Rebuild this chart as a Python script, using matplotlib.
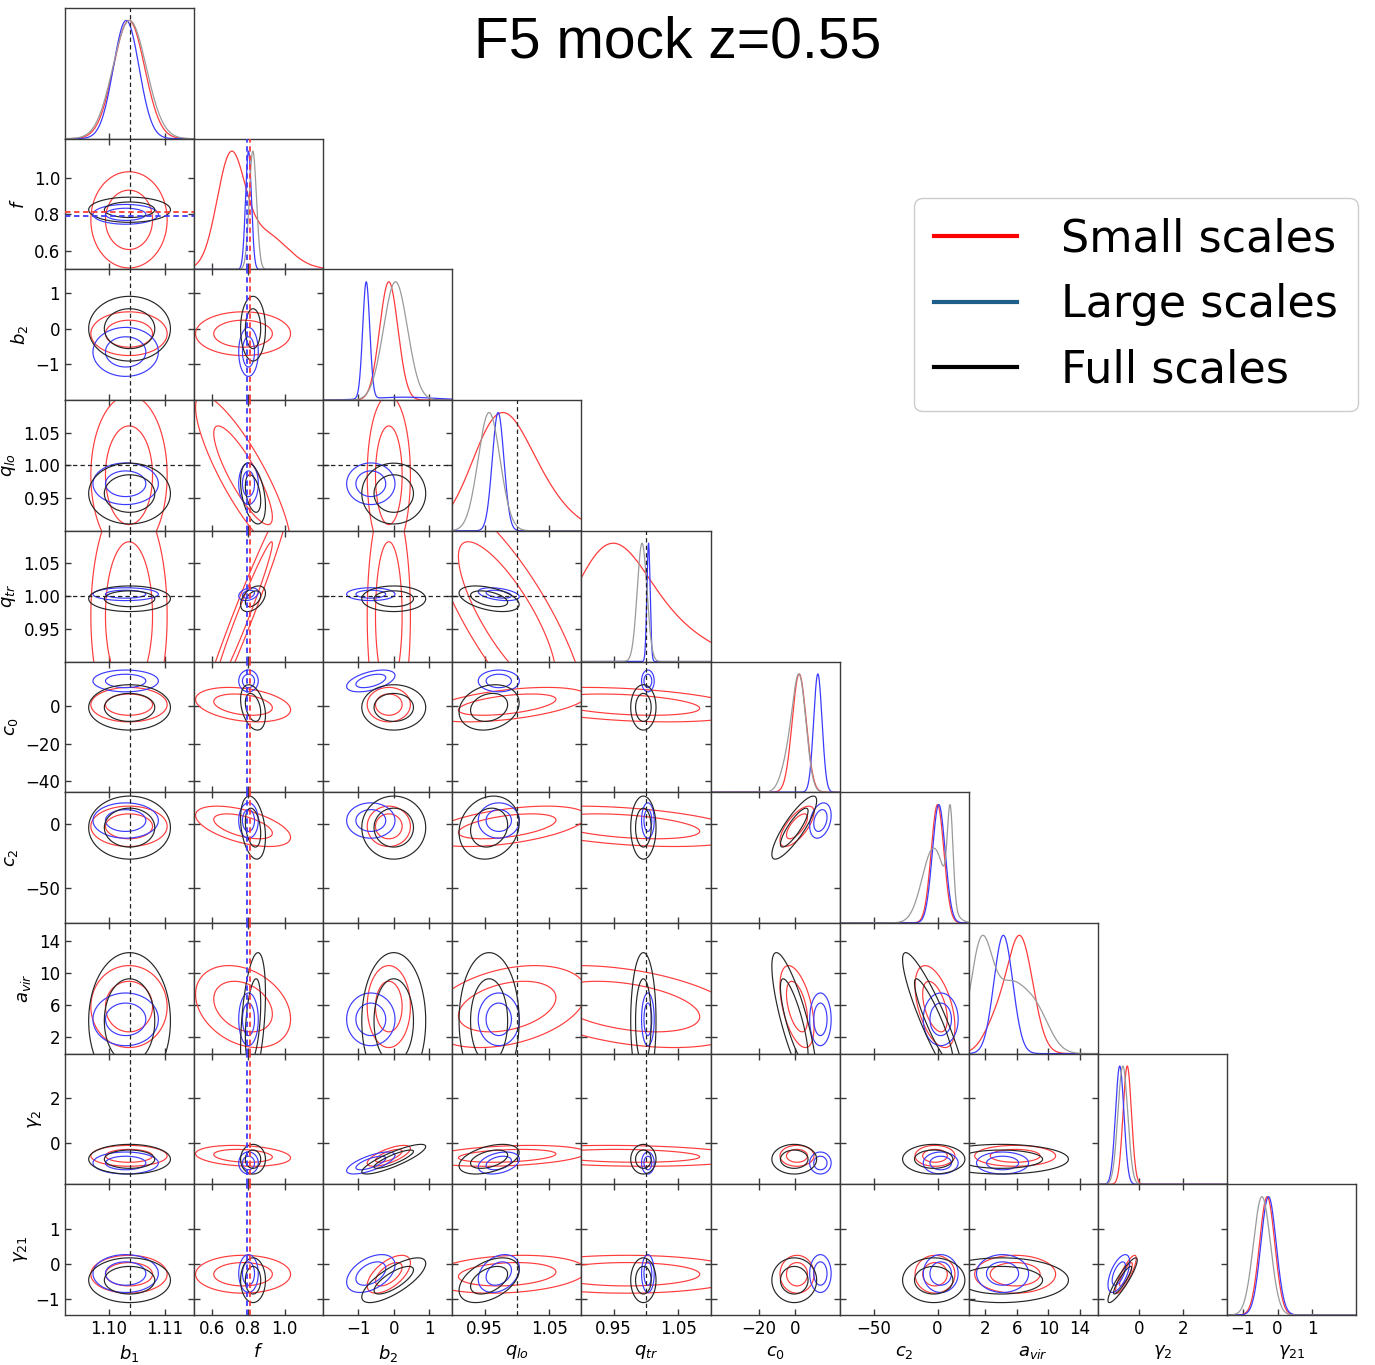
import numpy as np
import matplotlib
matplotlib.use('Agg')
import matplotlib.pyplot as plt
from matplotlib.lines import Line2D

# ---------------- data ----------------
PARAMS = ['b1', 'f', 'b2', 'q_lo', 'q_tr', 'c0', 'c2', 'a_vir', 'g2', 'g21']
LABELS = [r'$b_1$', r'$f$', r'$b_2$', r'$q_{lo}$', r'$q_{tr}$', r'$c_0$',
          r'$c_2$', r'$a_{vir}$', r'$\gamma_2$', r'$\gamma_{21}$']
LIMITS = [(1.0921, 1.1153), (0.5, 1.212), (-2.0, 1.66), (0.9, 1.1), (0.9, 1.1),
          (-46.3, 24.3), (-77.0, 24.5), (-0.1, 16.3), (-1.85, 3.98), (-1.46, 2.26)]
XTICKS = [[1.10, 1.11], [0.6, 0.8, 1.0], [-1, 0, 1], [0.95, 1.05], [0.95, 1.05],
          [-20, 0], [-50, 0], [2, 6, 10, 14], [0, 2], [-1, 0, 1]]
XTICKLABELS = [['1.10', '1.11'], ['0.6', '0.8', '1.0'], ['\u22121', '0', '1'],
               ['0.95', '1.05'], ['0.95', '1.05'], ['\u221220', '0'],
               ['\u221250', '0'], ['2', '6', '10', '14'], ['0', '2'],
               ['\u22121', '0', '1']]
YTICKS = [[], [0.6, 0.8, 1.0], [-1, 0, 1], [0.95, 1.00, 1.05], [0.95, 1.00, 1.05],
          [-40, -20, 0], [-50, 0], [2, 6, 10, 14], [0, 2], [-1, 0, 1]]
YTICKLABELS = [[], ['0.6', '0.8', '1.0'], ['\u22121', '0', '1'],
               ['0.95', '1.00', '1.05'], ['0.95', '1.00', '1.05'],
               ['\u221240', '\u221220', '0'], ['\u221250', '0'],
               ['2', '6', '10', '14'], ['0', '2'], ['\u22121', '0', '1']]

SERIES = ['Small scales', 'Large scales', 'Full scales']

# 2D posterior centres / widths (one value per parameter)
MEAN_SMALL = [1.1036, 0.77, -0.14, 0.985, 0.97, 1.0, -2.0, 5.8, -0.58, -0.30]
SIG_SMALL = [0.0028, 0.107, 0.25, 0.050, 0.075, 3.8, 6.4, 2.1, 0.19, 0.22]
MEAN_LARGE = [1.1030, 0.800, -0.65, 0.972, 1.003, 13.8, 2.5, 4.2, -0.90, -0.28]
SIG_LARGE = [0.0024, 0.022, 0.28, 0.013, 0.004, 2.4, 5.6, 1.35, 0.20, 0.22]
MEAN_FULL = [1.1037, 0.825, 0.0, 0.957, 0.996, -0.5, -3.0, 4.0, -0.73, -0.47]
SIG_FULL = [0.0030, 0.028, 0.37, 0.019, 0.008, 5.0, 10.0, 3.5, 0.27, 0.26]

# pairwise correlations (unlisted pairs ~ 0)
RHO_SMALL = {('f', 'q_lo'): -0.85, ('f', 'q_tr'): 0.975, ('q_lo', 'q_tr'): -0.8,
             ('f', 'c0'): -0.3, ('f', 'c2'): -0.55, ('f', 'a_vir'): -0.3,
             ('q_lo', 'c0'): 0.5, ('q_lo', 'c2'): 0.5, ('q_lo', 'a_vir'): 0.35,
             ('q_tr', 'c0'): -0.35, ('q_tr', 'c2'): -0.4, ('q_tr', 'a_vir'): -0.4,
             ('c0', 'c2'): 0.7, ('c0', 'a_vir'): -0.5, ('c2', 'a_vir'): -0.5,
             ('b2', 'g2'): 0.7, ('b2', 'g21'): 0.6, ('g2', 'g21'): 0.85,
             ('q_lo', 'g2'): 0.3, ('q_lo', 'g21'): 0.2, ('f', 'g2'): -0.2,
             ('q_tr', 'g2'): -0.15}
RHO_LARGE = {('f', 'q_tr'): 0.3, ('q_lo', 'q_tr'): -0.4, ('b2', 'c0'): 0.5,
             ('b2', 'g2'): 0.7, ('b2', 'g21'): 0.45, ('g2', 'g21'): 0.6,
             ('q_lo', 'g2'): 0.35, ('q_lo', 'g21'): 0.3, ('c0', 'c2'): 0.3}
RHO_FULL = {('f', 'q_lo'): -0.4, ('f', 'q_tr'): 0.45, ('q_lo', 'q_tr'): -0.45,
            ('f', 'c0'): -0.35, ('f', 'c2'): -0.3, ('f', 'a_vir'): 0.4,
            ('c0', 'c2'): 0.85, ('c0', 'a_vir'): -0.8, ('c2', 'a_vir'): -0.9,
            ('b2', 'g2'): 0.85, ('b2', 'g21'): 0.75, ('g2', 'g21'): 0.9,
            ('q_lo', 'g2'): 0.45, ('q_lo', 'g21'): 0.45, ('q_lo', 'c0'): 0.2,
            ('q_lo', 'c2'): 0.15}

# 1D marginals: components (centre, width, weight)
MARG_SMALL = {'b1': [(1.1036, 0.0028, 1)], 'f': [(0.70, 0.075, 1), (0.88, 0.13, 0.35)],
              'b2': [(-0.14, 0.26, 1)], 'q_lo': [(0.97, 0.042, 1), (1.03, 0.045, 0.35)],
              'q_tr': [(0.94, 0.055, 1), (1.02, 0.07, 0.35)], 'c0': [(2.2, 3.8, 1)],
              'c2': [(0.0, 5.0, 1)], 'a_vir': [(6.5, 1.6, 1), (3.5, 1.6, 0.28)],
              'g2': [(-0.52, 0.19, 1)], 'g21': [(-0.30, 0.22, 1)]}
MARG_LARGE = {'b1': [(1.1031, 0.0023, 1)], 'f': [(0.80, 0.016, 1)],
              'b2': [(-0.78, 0.10, 1), (0.3, 0.9, 0.025)], 'q_lo': [(0.971, 0.009, 1)],
              'q_tr': [(1.004, 0.0025, 1)], 'c0': [(12.4, 2.3, 1)],
              'c2': [(1.0, 5.0, 1)], 'a_vir': [(4.3, 1.2, 1)],
              'g2': [(-0.86, 0.19, 1)], 'g21': [(-0.26, 0.22, 1)]}
MARG_FULL = {'b1': [(1.1037, 0.0030, 1)], 'f': [(0.824, 0.020, 1)],
             'b2': [(0.05, 0.34, 1)], 'q_lo': [(0.957, 0.017, 1)],
             'q_tr': [(0.994, 0.0075, 1)], 'c0': [(2.5, 3.6, 1), (-3.5, 4.0, 0.3)],
             'c2': [(10.0, 2.2, 0.55), (-3.0, 9.0, 0.45)],
             'a_vir': [(1.5, 1.4, 0.75), (5.0, 1.8, 0.42), (8.3, 1.8, 0.30)],
             'g2': [(-0.72, 0.22, 1)], 'g21': [(-0.45, 0.245, 1)]}

TRUTH_B1 = 1.1038
TRUTH_F_SMALL = 0.81
TRUTH_F_LARGE = 0.79
TRUTH_Q = 1.0

# ---------------- styling ----------------
C_SMALL = '#ff3b3b'
C_LARGE = '#3b3bff'
C_FULL = '#262626'
C_FULL_1D = '#9a9a9a'
LEG_COLORS = ['#ff0000', '#1d5f88', '#000000']
K1, K2 = 1.51, 2.448

series_data = [
    (MEAN_SMALL, SIG_SMALL, RHO_SMALL, MARG_SMALL, C_SMALL, C_SMALL),
    (MEAN_LARGE, SIG_LARGE, RHO_LARGE, MARG_LARGE, C_LARGE, C_LARGE),
    (MEAN_FULL, SIG_FULL, RHO_FULL, MARG_FULL, C_FULL, C_FULL_1D),
]

N = len(PARAMS)
fig, axes = plt.subplots(N, N, figsize=(13.75, 13.65), dpi=100)
fig.subplots_adjust(left=65 / 1375, right=1356 / 1375, bottom=1 - 1315 / 1365,
                    top=1 - 8 / 1365, wspace=0, hspace=0)


def get_rho(rhos, a, b):
    return rhos.get((a, b), rhos.get((b, a), 0.0))


def draw_1d(ax, i, comps, color):
    lo, hi = LIMITS[i]
    x = np.linspace(lo, hi, 800)
    y = np.zeros_like(x)
    for m, s, w in comps:
        y += w * np.exp(-0.5 * ((x - m) / s) ** 2)
    y /= y.max()
    ax.plot(x, y, color=color, lw=0.9)


def draw_2d(ax, xi, yi, mean, sig, rho, color):
    x0, x1 = LIMITS[xi]
    y0, y1 = LIMITS[yi]
    dx_ = (x1 - x0) * 0.15
    dy_ = (y1 - y0) * 0.15
    x = np.linspace(x0 - dx_, x1 + dx_, 400)
    y = np.linspace(y0 - dy_, y1 + dy_, 400)
    X, Y = np.meshgrid(x, y)
    u = (X - mean[xi]) / sig[xi]
    v = (Y - mean[yi]) / sig[yi]
    d2 = (u ** 2 - 2 * rho * u * v + v ** 2) / (1 - rho ** 2)
    ax.contour(X, Y, d2, levels=[K1 ** 2, K2 ** 2], colors=[color],
               linewidths=0.85)


dash_k = dict(color='#222222', lw=0.9, ls=(0, (3.5, 2.5)), zorder=5)
for r in range(N):
    for c in range(N):
        ax = axes[r, c]
        if c > r:
            ax.axis('off')
            continue
        for sp in ax.spines.values():
            sp.set_color('#3a3a3a')
            sp.set_linewidth(1.0)
        ax.set_xlim(LIMITS[c])
        if r == c:
            for mean, sig, rhos, marg, col2, col1 in series_data:
                draw_1d(ax, c, marg[PARAMS[c]], col1)
            ax.set_ylim(0, 1.105)
            ax.set_yticks([])
        else:
            for mean, sig, rhos, marg, col2, col1 in series_data:
                draw_2d(ax, c, r, mean, sig,
                        get_rho(rhos, PARAMS[c], PARAMS[r]), col2)
            ax.set_ylim(LIMITS[r])
            ax.set_yticks(YTICKS[r])
            ax.set_yticklabels(YTICKLABELS[r])
        ax.set_xticks(XTICKS[c])
        ax.set_xticklabels(XTICKLABELS[c])
        ax.tick_params(direction='in', length=4, width=1.0, color='#3a3a3a',
                       labelsize=12, top=(r != c), right=(r != c))
        # truth lines
        if c == 0:
            ax.axvline(TRUTH_B1, **dash_k)
        if c == 1:
            ax.axvline(TRUTH_F_SMALL, color=C_SMALL, lw=1.3, ls=(0, (3, 2)), zorder=5)
            ax.axvline(TRUTH_F_LARGE, color=C_LARGE, lw=1.3, ls=(0, (3, 2)), zorder=5)
        if c in (3, 4):
            ax.axvline(TRUTH_Q, **dash_k)
        if r == 1 and c == 0:
            ax.axhline(TRUTH_F_SMALL, color=C_SMALL, lw=1.3, ls=(0, (3, 2)), zorder=5)
            ax.axhline(TRUTH_F_LARGE, color=C_LARGE, lw=1.3, ls=(0, (3, 2)), zorder=5)
        if r in (3, 4) and c < r and c != 1:
            ax.axhline(TRUTH_Q, **dash_k)
        # labels
        if r == N - 1:
            ax.set_xlabel(LABELS[c], fontsize=13)
        else:
            ax.set_xticklabels([])
        if c == 0 and r > 0:
            ax.set_ylabel(LABELS[r], fontsize=13)
        else:
            ax.set_yticklabels([])

fig.text(677.5 / 1375, 1 - 58.0 / 1365, 'F5 mock z=0.55', ha='center',
         va='baseline', fontsize=41, family='Liberation Sans')

handles = [Line2D([], [], color=col, lw=3) for col in LEG_COLORS]
fig.legend(handles, SERIES, loc='upper right',
           bbox_to_anchor=(1358 / 1375, 1 - 198 / 1365), fontsize=32,
           handlelength=1.85, handletextpad=1.0, labelspacing=0.5,
           borderpad=0.45, borderaxespad=0.0, framealpha=1.0)

fig.savefig('out.png', dpi=100)
